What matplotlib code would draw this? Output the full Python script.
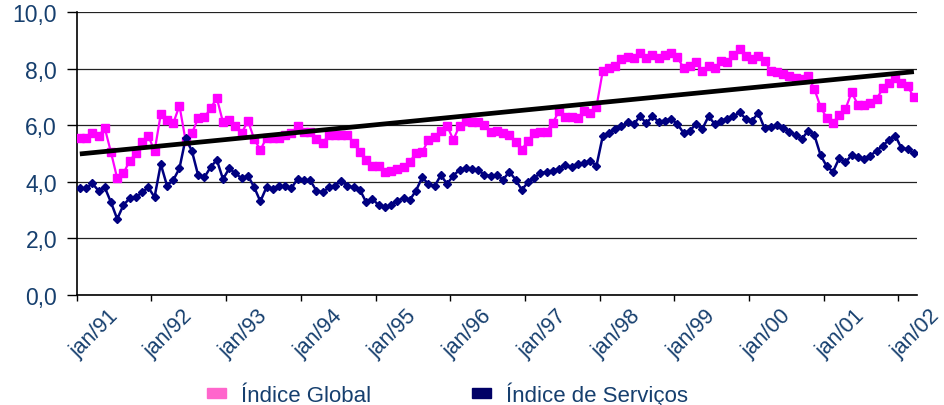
import numpy as np
import matplotlib
matplotlib.use("Agg")
import matplotlib.pyplot as plt
import matplotlib.transforms as mtransforms
from matplotlib.patches import Patch

plt.rcParams['font.family'] = ['Liberation Sans', 'DejaVu Sans']

# monthly values, jan/91 onwards
indice_global = [
    5.54, 5.55, 5.73, 5.61, 5.91, 5.05, 4.13, 4.30, 4.75, 5.01,
    5.42, 5.64, 5.08, 6.40, 6.19, 6.07, 6.70, 5.45, 5.72, 6.25,
    6.28, 6.60, 6.97, 6.11, 6.19, 5.99, 5.72, 6.17, 5.52, 5.13,
    5.57, 5.57, 5.57, 5.67, 5.72, 5.97, 5.75, 5.75, 5.52, 5.37,
    5.66, 5.67, 5.67, 5.67, 5.37, 5.05, 4.78, 4.57, 4.57, 4.36,
    4.40, 4.46, 4.52, 4.72, 5.01, 5.05, 5.49, 5.58, 5.80, 5.99,
    5.49, 5.99, 6.17, 6.13, 6.11, 6.01, 5.75, 5.81, 5.72, 5.66,
    5.42, 5.14, 5.46, 5.72, 5.75, 5.78, 6.09, 6.52, 6.31, 6.28,
    6.26, 6.52, 6.43, 6.66, 7.91, 8.02, 8.11, 8.35, 8.41, 8.37,
    8.55, 8.37, 8.49, 8.37, 8.50, 8.56, 8.41, 8.03, 8.11, 8.23,
    7.93, 8.09, 8.02, 8.27, 8.23, 8.49, 8.70, 8.47, 8.35, 8.47,
    8.29, 7.93, 7.90, 7.82, 7.76, 7.68, 7.64, 7.74, 7.29, 6.66,
    6.25, 6.08, 6.38, 6.58, 7.17, 6.73, 6.72, 6.78, 6.93, 7.31,
    7.49, 7.66, 7.50, 7.38, 6.99,
]

indice_servicos = [
    3.77, 3.77, 3.95, 3.69, 3.81, 3.28, 2.69, 3.18, 3.42, 3.46,
    3.63, 3.81, 3.46, 4.63, 3.87, 4.06, 4.48, 5.54, 5.10, 4.24,
    4.16, 4.52, 4.78, 4.10, 4.48, 4.30, 4.13, 4.22, 3.82, 3.31,
    3.82, 3.76, 3.84, 3.84, 3.78, 4.12, 4.07, 4.06, 3.69, 3.63,
    3.81, 3.87, 4.04, 3.85, 3.81, 3.72, 3.28, 3.40, 3.18, 3.10,
    3.18, 3.34, 3.42, 3.36, 3.69, 4.16, 3.93, 3.85, 4.24, 3.93,
    4.22, 4.43, 4.48, 4.45, 4.43, 4.24, 4.22, 4.24, 4.08, 4.36,
    4.08, 3.72, 3.99, 4.15, 4.31, 4.36, 4.40, 4.46, 4.60, 4.52,
    4.63, 4.67, 4.75, 4.57, 5.61, 5.73, 5.87, 5.97, 6.11, 6.05,
    6.32, 6.08, 6.32, 6.13, 6.17, 6.23, 6.05, 5.73, 5.81, 6.05,
    5.87, 6.32, 6.05, 6.17, 6.23, 6.32, 6.46, 6.23, 6.17, 6.44,
    5.90, 5.93, 6.01, 5.90, 5.78, 5.66, 5.52, 5.81, 5.66, 4.95,
    4.55, 4.36, 4.84, 4.69, 4.95, 4.87, 4.81, 4.93, 5.10, 5.28,
    5.49, 5.64, 5.19, 5.16, 5.01,
]

# linear trend of the global index, first and last month
tendencia = [4.99, 7.90]

anos = ['jan/91', 'jan/92', 'jan/93', 'jan/94', 'jan/95', 'jan/96',
        'jan/97', 'jan/98', 'jan/99', 'jan/00', 'jan/01', 'jan/02']
y_ticks = [0, 2, 4, 6, 8, 10]

txt_color = '#163F6E'
meses = np.arange(len(indice_global))

fig = plt.figure(figsize=(9.45, 4.06), dpi=100)
ax = fig.add_axes([0.0812, 0.2709, 0.8892, 0.6963])

ax.plot(meses, indice_global, color='#FF00FF', lw=1.6, marker='s', ms=5.6,
        mec='#FF00FF', mfc='#FF00FF', zorder=3)
ax.plot(meses, indice_servicos, color='#000080', lw=1.8, marker='D', ms=3.8,
        mec='#000080', mfc='#000080', zorder=3)
ax.plot([meses[0], meses[-1]], tendencia, color='black', lw=3.4,
        solid_capstyle='butt', zorder=4)

ax.set_xlim(-0.5, len(meses) - 0.5)
ax.set_ylim(0, 10)

ax.set_yticks(y_ticks)
ax.set_yticklabels([f'{v:.1f}'.replace('.', ',') for v in y_ticks])
ax.yaxis.grid(True, color='#222222', lw=0.9)
ax.set_axisbelow(True)

# year ticks sit between categories; labels drawn as rotated texts shifted right
x_pos = np.arange(len(anos)) * 12 - 0.5
ax.set_xticks(x_pos)
ax.set_xticklabels([])
lab_trans = ax.get_xaxis_transform() + mtransforms.ScaledTranslation(
    0.175, -0.38, fig.dpi_scale_trans)
for xp, lab in zip(x_pos, anos):
    ax.text(xp, 0, lab, transform=lab_trans, rotation=45, ha='center',
            va='center', fontsize=15.5, color=txt_color, clip_on=False)

ax.tick_params(axis='y', length=7.2, width=1, pad=7, labelsize=16.5,
               labelcolor=txt_color, direction='out')
ax.tick_params(axis='x', length=4.3, width=1, direction='out')

for side in ['top', 'right']:
    ax.spines[side].set_visible(False)
ax.spines['left'].set_linewidth(1.2)
ax.spines['bottom'].set_linewidth(1.2)

handles = [Patch(color='#FF66CC', label='Índice Global'),
           Patch(color='#000066', label='Índice de Serviços')]
fig.legend(handles=handles, loc='center', bbox_to_anchor=(0.4735, 0.028),
           ncol=2, frameon=False, fontsize=16, labelcolor=txt_color,
           handlelength=0.86, handleheight=0.32, handletextpad=0.68,
           columnspacing=4.5, borderpad=0)

fig.savefig('out.png', dpi=100)
